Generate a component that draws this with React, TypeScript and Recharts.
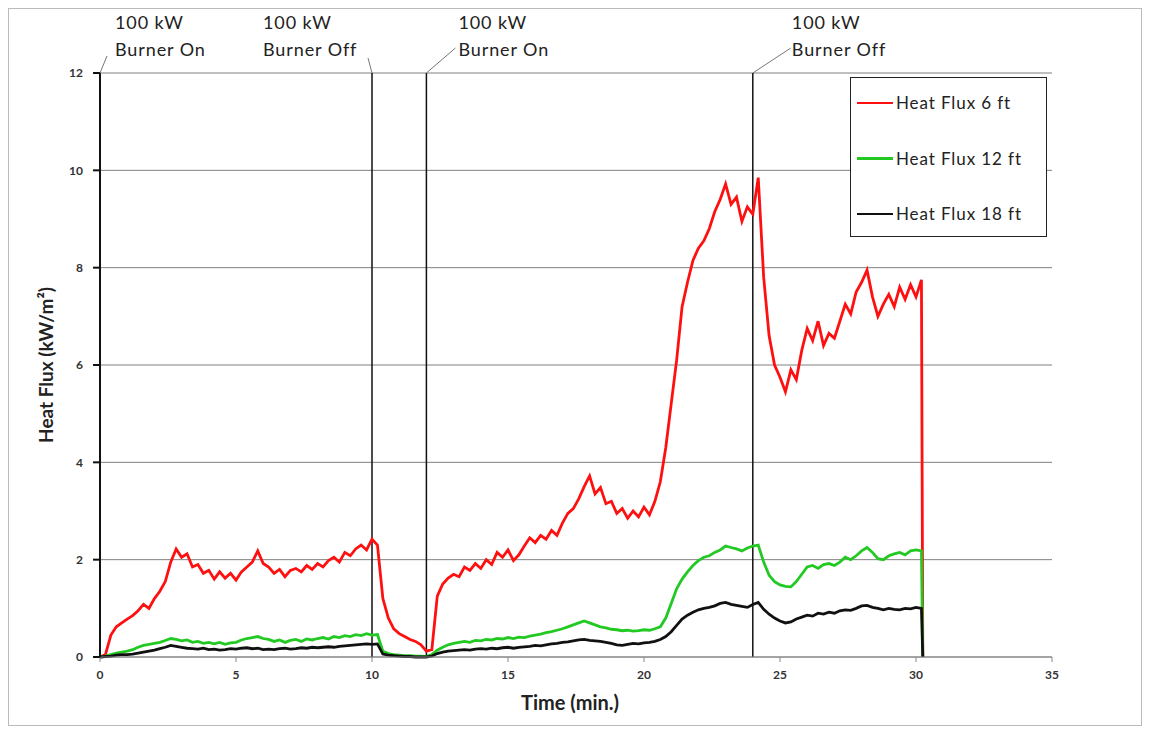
import React from "react";
import {
  LineChart,
  Line,
  XAxis,
  YAxis,
  CartesianGrid,
  ReferenceLine,
} from "recharts";

// sample times (min.)
const times = [
  0, 0.2, 0.4, 0.6, 0.8, 1.0, 1.2, 1.4, 1.6, 1.8,
  2.0, 2.2, 2.4, 2.6, 2.8, 3.0, 3.2, 3.4, 3.6, 3.8,
  4.0, 4.2, 4.4, 4.6, 4.8, 5.0, 5.2, 5.4, 5.6, 5.8,
  6.0, 6.2, 6.4, 6.6, 6.8, 7.0, 7.2, 7.4, 7.6, 7.8,
  8.0, 8.2, 8.4, 8.6, 8.8, 9.0, 9.2, 9.4, 9.6, 9.8,
  10.0, 10.2, 10.4, 10.6, 10.8, 11.0, 11.2, 11.4, 11.6, 11.8,
  12.0, 12.2, 12.4, 12.6, 12.8, 13.0, 13.2, 13.4, 13.6, 13.8,
  14.0, 14.2, 14.4, 14.6, 14.8, 15.0, 15.2, 15.4, 15.6, 15.8,
  16.0, 16.2, 16.4, 16.6, 16.8, 17.0, 17.2, 17.4, 17.6, 17.8,
  18.0, 18.2, 18.4, 18.6, 18.8, 19.0, 19.2, 19.4, 19.6, 19.8,
  20.0, 20.2, 20.4, 20.6, 20.8, 21.0, 21.2, 21.4, 21.6, 21.8,
  22.0, 22.2, 22.4, 22.6, 22.8, 23.0, 23.2, 23.4, 23.6, 23.8,
  24.0, 24.2, 24.4, 24.6, 24.8, 25.0, 25.2, 25.4, 25.6, 25.8,
  26.0, 26.2, 26.4, 26.6, 26.8, 27.0, 27.2, 27.4, 27.6, 27.8,
  28.0, 28.2, 28.4, 28.6, 28.8, 29.0, 29.2, 29.4, 29.6, 29.8,
  30.0, 30.2, 30.25,
];

const flux6 = [
  0, 0.05, 0.45, 0.62, 0.7, 0.78, 0.85, 0.95, 1.08, 1.0,
  1.2, 1.35, 1.55, 1.95, 2.22, 2.05, 2.12, 1.85, 1.9, 1.72,
  1.78, 1.6, 1.75, 1.62, 1.72, 1.58, 1.75, 1.85, 1.95, 2.18,
  1.92, 1.85, 1.72, 1.8, 1.65, 1.78, 1.82, 1.75, 1.88, 1.8,
  1.92, 1.85, 1.98, 2.05, 1.95, 2.15, 2.08, 2.22, 2.3, 2.2,
  2.42, 2.3, 1.2, 0.8, 0.58, 0.48, 0.42, 0.36, 0.32, 0.25,
  0.12, 0.15, 1.25, 1.5, 1.62, 1.7, 1.65, 1.85, 1.78, 1.92,
  1.82, 2.0, 1.9, 2.15, 2.05, 2.2, 1.98, 2.1, 2.28, 2.45,
  2.35, 2.5, 2.42, 2.6, 2.5, 2.75, 2.95, 3.05, 3.25, 3.5,
  3.72, 3.35, 3.48, 3.15, 3.2, 2.95, 3.05, 2.85, 3.0, 2.88,
  3.08, 2.92, 3.2, 3.6, 4.3, 5.2, 6.1, 7.2, 7.7, 8.15,
  8.4, 8.55, 8.8, 9.15, 9.4, 9.72, 9.3, 9.45, 8.95, 9.25,
  9.1, 9.85, 7.8, 6.6, 6.0, 5.75, 5.45, 5.9, 5.7, 6.3,
  6.75, 6.5, 6.9, 6.4, 6.65, 6.55, 6.9, 7.25, 7.05, 7.5,
  7.7, 7.95, 7.4, 7.0, 7.25, 7.45, 7.2, 7.6, 7.35, 7.65,
  7.4, 7.75, 0,
];

const flux12 = [
  0, 0.02, 0.05, 0.08, 0.1, 0.12, 0.15, 0.2, 0.24, 0.26,
  0.28, 0.3, 0.34, 0.38, 0.36, 0.33, 0.35, 0.3, 0.32, 0.28,
  0.3, 0.27, 0.3, 0.26, 0.29, 0.3, 0.35, 0.38, 0.4, 0.42,
  0.38, 0.36, 0.32, 0.35, 0.3, 0.34, 0.36, 0.32, 0.37, 0.35,
  0.38, 0.4, 0.37, 0.42, 0.4, 0.44, 0.42, 0.46, 0.44, 0.48,
  0.45, 0.46, 0.12, 0.07, 0.05, 0.04, 0.03, 0.03, 0.02, 0.02,
  0.01, 0.05, 0.14, 0.2, 0.25, 0.28, 0.3, 0.32, 0.3, 0.34,
  0.33, 0.36, 0.35, 0.38, 0.37, 0.4, 0.38, 0.41, 0.4, 0.43,
  0.45, 0.47, 0.5, 0.52, 0.55, 0.58, 0.62, 0.66, 0.7, 0.74,
  0.7, 0.66, 0.62, 0.6, 0.57, 0.56, 0.54, 0.55, 0.53, 0.54,
  0.56, 0.55, 0.58, 0.62, 0.8, 1.1, 1.4, 1.6, 1.75, 1.88,
  1.98, 2.05, 2.08, 2.15, 2.2, 2.28, 2.25, 2.22, 2.18, 2.24,
  2.28, 2.3, 1.95, 1.68, 1.55, 1.48, 1.45, 1.44, 1.55, 1.7,
  1.85, 1.88, 1.82, 1.9, 1.92, 1.88, 1.95, 2.05, 2.0, 2.08,
  2.18, 2.25, 2.15, 2.02, 2.0, 2.08, 2.12, 2.15, 2.1, 2.18,
  2.2, 2.18, 0,
];

const flux18 = [
  0, 0.01, 0.02, 0.04, 0.05, 0.05, 0.06, 0.08, 0.1, 0.12,
  0.14, 0.17, 0.2, 0.24, 0.22, 0.2, 0.18, 0.17, 0.16, 0.18,
  0.15, 0.16, 0.14, 0.15, 0.17, 0.16, 0.18, 0.19, 0.17, 0.18,
  0.15, 0.16, 0.15, 0.17, 0.18, 0.16, 0.17, 0.19, 0.18, 0.2,
  0.19, 0.2, 0.21, 0.2, 0.22, 0.23, 0.24, 0.25, 0.26, 0.27,
  0.26, 0.27, 0.06, 0.04, 0.03, 0.02, 0.01, 0.01, 0, 0,
  0, 0.02, 0.07, 0.1, 0.12, 0.13, 0.14, 0.15, 0.14, 0.16,
  0.17, 0.16, 0.18, 0.17, 0.19, 0.2, 0.18, 0.2, 0.21, 0.22,
  0.24, 0.23, 0.25, 0.27, 0.28, 0.3, 0.31, 0.33, 0.35, 0.36,
  0.34, 0.33, 0.32, 0.3, 0.28, 0.25, 0.24, 0.26, 0.28, 0.27,
  0.29, 0.3, 0.32, 0.36, 0.42, 0.52, 0.65, 0.78, 0.86, 0.92,
  0.97, 1.0, 1.02, 1.05, 1.1, 1.12, 1.08, 1.06, 1.04, 1.02,
  1.08, 1.12, 0.98, 0.88, 0.8, 0.74, 0.7, 0.72, 0.78, 0.82,
  0.86, 0.84, 0.9, 0.88, 0.92, 0.9, 0.95, 0.97, 0.96, 1.0,
  1.05, 1.06, 1.02, 1.0, 0.97, 1.0, 0.98, 0.97, 1.0, 0.99,
  1.02, 1.0, 0,
];

const xTicks = [0, 5, 10, 15, 20, 25, 30, 35];
const yTicks = [0, 2, 4, 6, 8, 10, 12];

const events = [
  { t: 0, note: "Burner On" },
  { t: 10, note: "Burner Off" },
  { t: 12, note: "Burner On" },
  { t: 24, note: "Burner Off" },
];

const seriesInfo = [
  { key: "f6", name: "Heat Flux 6 ft", color: "#ff1010" },
  { key: "f12", name: "Heat Flux 12 ft", color: "#22c922" },
  { key: "f18", name: "Heat Flux 18 ft", color: "#111111" },
];

const data = times.map((t, i) => ({
  t,
  f6: flux6[i],
  f12: flux12[i],
  f18: flux18[i],
}));

const FONT = "Lato, 'Open Sans', sans-serif";

// where the note text and leader line sit, relative to the event line
const noteOffsets: Record<number, { tx: number; lx: number; ly: number }> = {
  0: { tx: 15, lx: 7, ly: -17 },
  10: { tx: -109, lx: -4, ly: -15 },
  12: { tx: 32, lx: 29, ly: -25 },
  24: { tx: 39, lx: 38, ly: -25 },
};

function EventNote(props: any, t: number, note: string) {
  const vb = props.viewBox || {};
  const x = vb.x ?? 0;
  const y = vb.y ?? 0;
  const o = noteOffsets[t];
  const textStyle = { letterSpacing: 0.9 };
  return (
    <g>
      <line x1={x} y1={y} x2={x + o.lx} y2={y + o.ly} stroke="#777" strokeWidth={1} />
      <text x={x + o.tx} y={y - 44} fontSize={18} fill="#222" fontFamily={FONT} style={textStyle}>
        100 kW
      </text>
      <text x={x + o.tx} y={y - 17} fontSize={18} fill="#222" fontFamily={FONT} style={textStyle}>
        {note}
      </text>
    </g>
  );
}

function LegendBox() {
  return (
    <div
      style={{
        position: "absolute",
        left: 841,
        top: 68,
        width: 197,
        height: 160,
        border: "1.5px solid #222",
        background: "#fff",
        fontFamily: FONT,
        boxSizing: "border-box",
      }}
    >
      <div style={{ marginTop: -3 }}>
        {seriesInfo.map((s) => (
          <div
            key={s.key}
            style={{ display: "flex", alignItems: "center", height: 55.5 }}
          >
            <div
              style={{
                width: 36,
                height: 2.5,
                background: s.color,
                marginLeft: 6,
                marginRight: 3,
              }}
            />
            <span style={{ fontSize: 17, color: "#222", letterSpacing: 0.9 }}>
              {s.name}
            </span>
          </div>
        ))}
      </div>
    </div>
  );
}

export default function App() {
  return (
    <div
      style={{
        width: 1132,
        height: 716,
        border: "1px solid #bbb",
        position: "relative",
        fontFamily: FONT,
        background: "#fff",
      }}
    >
      <LineChart
        width={1132}
        height={716}
        data={data}
        margin={{ top: 64, right: 89, left: 0, bottom: 0 }}
      >
        <CartesianGrid vertical={false} stroke="#808080" strokeWidth={1} />
        <XAxis
          dataKey="t"
          type="number"
          domain={[0, 35]}
          ticks={xTicks}
          height={68}
          stroke="#888"
          tickSize={5}
          tickMargin={8}
          tick={{ fontSize: 12, fill: "#333", fontWeight: 700 }}
          label={() => (
            <text
              x={561}
              y={701}
              textAnchor="middle"
              fontSize={20}
              fontWeight={700}
              fill="#222"
              fontFamily={FONT}
            >
              Time (min.)
            </text>
          )}
        />
        <YAxis
          type="number"
          domain={[0, 12]}
          ticks={yTicks}
          width={91}
          stroke="#111"
          strokeWidth={2}
          tickSize={7}
          tickMargin={10}
          tick={{ fontSize: 12, fill: "#333", fontWeight: 700 }}
          label={() => (
            <text
              x={44}
              y={356}
              textAnchor="middle"
              fontSize={19}
              fontWeight={700}
              fill="#222"
              fontFamily={FONT}
              transform="rotate(-90 44 356)"
            >
              Heat Flux (kW/m²)
            </text>
          )}
        />
        {events.map((e) => (
          <ReferenceLine
            key={e.t}
            x={e.t}
            stroke="#111"
            strokeWidth={e.t === 0 ? 2 : 1.5}
            label={(p: any) => EventNote(p, e.t, e.note)}
          />
        ))}
        {seriesInfo.map((s) => (
          <Line
            key={s.key}
            type="linear"
            dataKey={s.key}
            name={s.name}
            stroke={s.color}
            strokeWidth={2.8}
            dot={false}
            isAnimationActive={false}
          />
        ))}
      </LineChart>
      <LegendBox />
    </div>
  );
}
